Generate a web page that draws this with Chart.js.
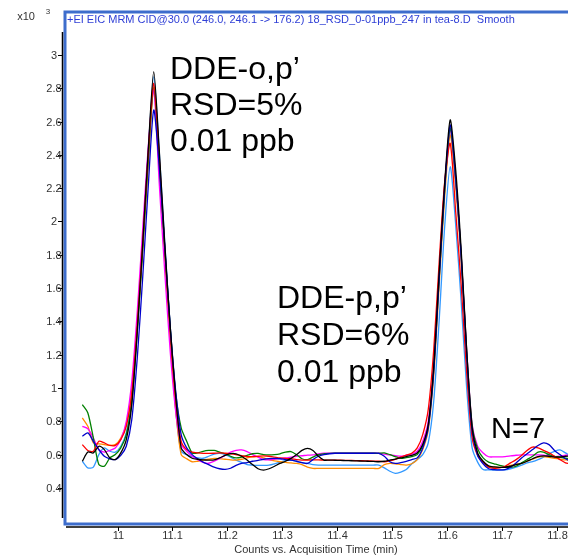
<!DOCTYPE html>
<html>
<head>
<meta charset="utf-8">
<script src="https://cdn.jsdelivr.net/npm/chart.js@4"></script>
<style>
  html, body { margin: 0; padding: 0; background: #fff; }
  canvas { display: block; }
</style>
</head>
<body>
<canvas id="chartLine" width="568" height="560"></canvas>
<script>
// acquisition time (min)
const times = [
  10.936, 10.946, 10.956, 10.966, 10.976, 10.986, 10.996, 11.006, 11.016, 11.026,
  11.036, 11.046, 11.056, 11.066, 11.076, 11.086, 11.096, 11.106, 11.116, 11.126,
  11.136, 11.146, 11.156, 11.166, 11.176, 11.186, 11.196, 11.206, 11.216, 11.226,
  11.236, 11.246, 11.256, 11.266, 11.276, 11.286, 11.296, 11.306, 11.316, 11.326,
  11.336, 11.346, 11.356, 11.366, 11.376, 11.386, 11.396, 11.406, 11.416, 11.426,
  11.436, 11.446, 11.456, 11.466, 11.476, 11.486, 11.496, 11.506, 11.516, 11.526,
  11.536, 11.546, 11.556, 11.566, 11.576, 11.586, 11.596, 11.606, 11.616, 11.626,
  11.636, 11.646, 11.656, 11.666, 11.676, 11.686, 11.696, 11.706, 11.716, 11.726,
  11.736, 11.746, 11.756, 11.766, 11.776, 11.786, 11.796, 11.806, 11.816, 11.826,
];

// counts x10^3, one array per injection (N=7)
const run1 = [
  0.56, 0.615, 0.61, 0.65, 0.63, 0.58, 0.57, 0.61, 0.69, 0.90,
  1.34, 1.87, 2.43, 2.90, 2.43, 1.87, 1.37, 0.95, 0.64, 0.60,
  0.578, 0.572, 0.568, 0.567, 0.568, 0.58, 0.595, 0.606, 0.605, 0.59,
  0.567, 0.54, 0.515, 0.507, 0.515, 0.53, 0.547, 0.56, 0.577, 0.60,
  0.625, 0.637, 0.625, 0.59, 0.567, 0.567, 0.566, 0.565, 0.564, 0.563,
  0.562, 0.561, 0.56, 0.559, 0.557, 0.56, 0.567, 0.573, 0.58, 0.588,
  0.595, 0.61, 0.66, 0.78, 1.13, 1.70, 2.23, 2.61, 2.31, 1.83,
  1.23, 0.76, 0.61, 0.56, 0.532, 0.526, 0.523, 0.524, 0.53, 0.54,
  0.548, 0.56, 0.575, 0.588, 0.592, 0.59, 0.585, 0.585, 0.59, 0.592,
];
const run2 = [
  0.66, 0.625, 0.62, 0.68, 0.67, 0.655, 0.655, 0.69, 0.77, 0.97,
  1.38, 1.88, 2.41, 2.83, 2.39, 1.84, 1.33, 0.93, 0.68, 0.63,
  0.615, 0.61, 0.607, 0.607, 0.608, 0.61, 0.608, 0.605, 0.60, 0.593,
  0.588, 0.588, 0.59, 0.592, 0.59, 0.585, 0.58, 0.577, 0.575, 0.57,
  0.567, 0.567, 0.568, 0.568, 0.567, 0.567, 0.566, 0.566, 0.565, 0.565,
  0.564, 0.563, 0.562, 0.561, 0.56, 0.557, 0.563, 0.572, 0.585, 0.597,
  0.608, 0.64, 0.72, 0.87, 1.23, 1.76, 2.24, 2.47, 2.06, 1.62,
  1.095, 0.70, 0.595, 0.555, 0.525, 0.518, 0.52, 0.53, 0.55, 0.57,
  0.595, 0.625, 0.645, 0.64, 0.625, 0.61, 0.59, 0.57, 0.55, 0.545,
];
const run3 = [
  0.90, 0.85, 0.70, 0.54, 0.53, 0.58, 0.60, 0.64, 0.72, 0.92,
  1.34, 1.84, 2.37, 2.81, 2.37, 1.84, 1.36, 0.97, 0.76, 0.68,
  0.61, 0.61, 0.62, 0.625, 0.625, 0.615, 0.605, 0.59, 0.58, 0.585,
  0.595, 0.605, 0.607, 0.60, 0.598, 0.60, 0.605, 0.615, 0.618, 0.60,
  0.575, 0.57, 0.585, 0.60, 0.605, 0.607, 0.608, 0.608, 0.608, 0.608,
  0.608, 0.608, 0.608, 0.608, 0.608, 0.61, 0.60, 0.588, 0.578, 0.582,
  0.588, 0.60, 0.655, 0.77, 1.11, 1.66, 2.19, 2.56, 2.25, 1.80,
  1.22, 0.775, 0.635, 0.58, 0.555, 0.545, 0.535, 0.528, 0.523, 0.53,
  0.55, 0.57, 0.59, 0.615, 0.615, 0.60, 0.59, 0.585, 0.578, 0.578,
];
const run4 = [
  0.71, 0.73, 0.68, 0.63, 0.59, 0.575, 0.57, 0.595, 0.65, 0.81,
  1.18, 1.67, 2.21, 2.67, 2.33, 1.85, 1.37, 0.98, 0.72, 0.64,
  0.60, 0.575, 0.555, 0.54, 0.525, 0.515, 0.511, 0.518, 0.535, 0.547,
  0.552, 0.56, 0.565, 0.572, 0.576, 0.577, 0.575, 0.57, 0.567, 0.56,
  0.552, 0.547, 0.57, 0.59, 0.60, 0.605, 0.608, 0.608, 0.608, 0.608,
  0.608, 0.608, 0.608, 0.608, 0.608, 0.59, 0.557, 0.547, 0.552, 0.56,
  0.57, 0.58, 0.64, 0.76, 1.10, 1.66, 2.20, 2.58, 2.26, 1.79,
  1.20, 0.74, 0.595, 0.545, 0.515, 0.51, 0.508, 0.51, 0.525, 0.55,
  0.58, 0.605, 0.63, 0.655, 0.67, 0.66, 0.625, 0.60, 0.575, 0.56,
];
const run5 = [
  0.77, 0.755, 0.70, 0.63, 0.615, 0.625, 0.64, 0.69, 0.80, 1.04,
  1.46, 1.96, 2.45, 2.79, 2.23, 1.70, 1.22, 0.86, 0.66, 0.62,
  0.59, 0.57, 0.553, 0.548, 0.56, 0.577, 0.595, 0.615, 0.626, 0.628,
  0.618, 0.60, 0.585, 0.57, 0.568, 0.572, 0.577, 0.58, 0.585, 0.59,
  0.593, 0.597, 0.598, 0.604, 0.608, 0.608, 0.608, 0.608, 0.608, 0.608,
  0.608, 0.608, 0.608, 0.608, 0.608, 0.603, 0.598, 0.594, 0.59, 0.596,
  0.603, 0.62, 0.68, 0.80, 1.14, 1.69, 2.22, 2.55, 2.25, 1.80,
  1.23, 0.78, 0.65, 0.61, 0.587, 0.586, 0.586, 0.588, 0.592, 0.596,
  0.598, 0.598, 0.598, 0.598, 0.597, 0.592, 0.588, 0.59, 0.596, 0.598,
];
const run6 = [
  0.82, 0.77, 0.67, 0.665, 0.66, 0.655, 0.66, 0.70, 0.78, 0.97,
  1.36, 1.83, 2.34, 2.80, 2.32, 1.80, 1.31, 0.87, 0.60, 0.575,
  0.557, 0.56, 0.567, 0.572, 0.577, 0.576, 0.572, 0.568, 0.567, 0.572,
  0.58, 0.586, 0.588, 0.58, 0.57, 0.562, 0.557, 0.553, 0.55, 0.547,
  0.54, 0.525, 0.517, 0.517, 0.517, 0.517, 0.517, 0.517, 0.517, 0.517,
  0.517, 0.517, 0.517, 0.517, 0.517, 0.54, 0.547, 0.545, 0.54, 0.537,
  0.545, 0.57, 0.63, 0.745, 1.075, 1.62, 2.15, 2.52, 2.21, 1.76,
  1.185, 0.74, 0.60, 0.553, 0.528, 0.525, 0.523, 0.525, 0.535, 0.542,
  0.548, 0.56, 0.572, 0.585, 0.588, 0.583, 0.578, 0.573, 0.568, 0.566,
];
const run7 = [
  0.56, 0.52, 0.525, 0.60, 0.64, 0.62, 0.615, 0.65, 0.73, 0.94,
  1.36, 1.88, 2.42, 2.87, 2.42, 1.88, 1.36, 0.87, 0.62, 0.60,
  0.588, 0.58, 0.578, 0.59, 0.603, 0.607, 0.60, 0.585, 0.567, 0.553,
  0.54, 0.537, 0.535, 0.535, 0.537, 0.545, 0.555, 0.565, 0.567, 0.56,
  0.552, 0.547, 0.54, 0.537, 0.537, 0.537, 0.537, 0.537, 0.537, 0.537,
  0.537, 0.537, 0.537, 0.537, 0.537, 0.52, 0.50, 0.487, 0.495, 0.51,
  0.545, 0.57, 0.60, 0.67, 0.92, 1.41, 1.97, 2.33, 1.98, 1.52,
  1.00, 0.64, 0.555, 0.51, 0.508, 0.507, 0.507, 0.508, 0.515, 0.525,
  0.537, 0.55, 0.558, 0.57, 0.585, 0.605, 0.62, 0.628, 0.61, 0.59,
];

const xTicks = [11, 11.1, 11.2, 11.3, 11.4, 11.5, 11.6, 11.7, 11.8];
const yTicks = [0.4, 0.6, 0.8, 1, 1.2, 1.4, 1.6, 1.8, 2, 2.2, 2.4, 2.6, 2.8, 3];

// first dataset is drawn on top
const runs = [run1, run4, run2, run3, run5, run6, run7];
const colors = ["#000000", "#0000cc", "#ff0000", "#008000", "#ff00ff", "#ff8c00", "#3399ff"];

const FONT = "'Liberation Sans', Arial, sans-serif";

const decorations = {
  id: "decorations",
  afterDraw(chart) {
    const c = chart.ctx;
    const xs = chart.scales.x;
    const ys = chart.scales.y;
    c.save();

    // blue frame
    c.strokeStyle = "#3d6dcc";
    c.lineWidth = 3;
    c.strokeRect(65, 12, 520, 512);

    // title
    c.fillStyle = "#2f3fd6";
    c.font = "11px " + FONT;
    c.textAlign = "left";
    c.textBaseline = "middle";
    c.fillText("+EI EIC MRM CID@30.0 (246.0, 246.1 -> 176.2) 18_RSD_0-01ppb_247 in tea-8.D  Smooth", 67, 20);

    // y axis
    c.strokeStyle = "#000";
    c.lineWidth = 1.5;
    c.beginPath();
    c.moveTo(62.5, chart.chartArea.top);
    c.lineTo(62.5, chart.chartArea.bottom);
    c.stroke();
    c.fillStyle = "#333";
    c.font = "11px " + FONT;
    c.textAlign = "center";
    c.lineWidth = 1;
    yTicks.forEach((v) => {
      const y = Math.round(ys.getPixelForValue(v)) + 0.5;
      c.beginPath();
      c.moveTo(58, y);
      c.lineTo(62, y);
      c.stroke();
      c.fillText(String(v), 54, y);
    });
    c.fillText("x10", 26, 17);
    c.font = "8px " + FONT;
    c.fillText("3", 48, 12);

    // x axis
    c.lineWidth = 1.5;
    c.beginPath();
    c.moveTo(66, 527);
    c.lineTo(568, 527);
    c.stroke();
    c.lineWidth = 1;
    c.font = "11px " + FONT;
    c.textBaseline = "middle";
    xTicks.forEach((v) => {
      const x = Math.round(xs.getPixelForValue(v)) + 0.5;
      c.beginPath();
      c.moveTo(x, 527);
      c.lineTo(x, 531);
      c.stroke();
      c.fillText(String(v), x, 536);
    });
    c.fillText("Counts vs. Acquisition Time (min)", 316, 550);

    // peak annotations
    c.fillStyle = "#000";
    c.textAlign = "left";
    c.textBaseline = "alphabetic";
    c.font = "32px " + FONT;
    ["DDE-o,p\u2019", "RSD=5%", "0.01 ppb"].forEach((s, i) => c.fillText(s, 170, 79 + i * 36));
    ["DDE-p,p\u2019", "RSD=6%", "0.01 ppb"].forEach((s, i) => c.fillText(s, 277, 308 + i * 37));
    c.font = "29px " + FONT;
    c.fillText("N=7", 491, 438);
    c.restore();
  },
};

const ctx = document.getElementById("chartLine").getContext("2d");
new Chart(ctx, {
  type: "line",
  data: {
    datasets: runs.map((run, k) => ({
      data: times.map((t, i) => ({ x: t, y: run[i] })),
      borderColor: colors[k],
      borderWidth: 1.3,
      pointRadius: 0,
      tension: 0.25,
      fill: false,
    })),
  },
  options: {
    responsive: false,
    animation: false,
    devicePixelRatio: 1,
    layout: { padding: { left: 62, top: 32, right: 0, bottom: 42 } },
    plugins: { legend: { display: false }, tooltip: { enabled: false } },
    scales: {
      x: { type: "linear", min: 10.8989, max: 11.8206, display: false },
      y: { min: 0.2192, max: 3.1381, display: false },
    },
  },
  plugins: [decorations],
});
</script>
</body>
</html>
